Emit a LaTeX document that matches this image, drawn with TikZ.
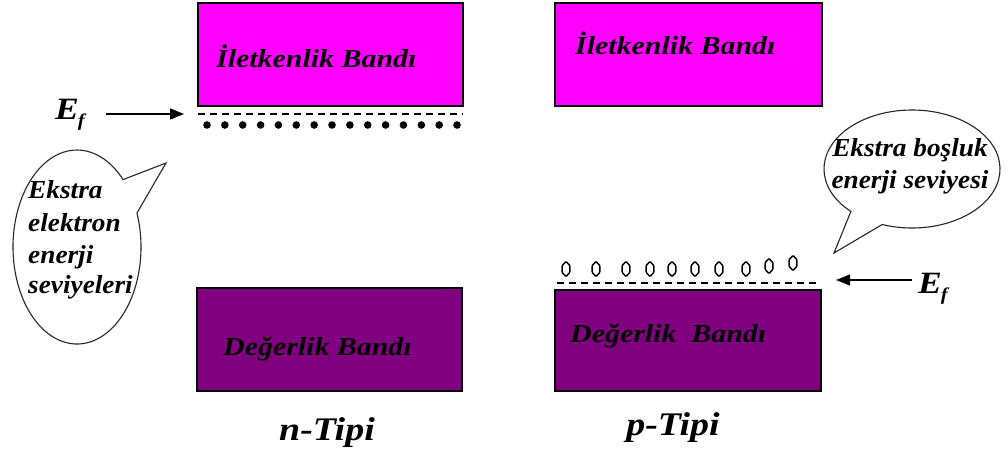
\documentclass[tikz,border=0pt]{standalone}
\usepackage{fontspec}
\setmainfont{Liberation Serif}
\newfontfamily\bandf[FakeStretch=1.15]{Liberation Serif}
\newfontfamily\bubf[FakeStretch=1.05]{Liberation Serif}
\usetikzlibrary{arrows.meta}
\definecolor{cbandc}{RGB}{255,0,255}
\definecolor{vbandc}{RGB}{128,0,128}
\begin{document}
\begin{tikzpicture}[x=1pt,y=-1pt,
  bandbox/.style={draw=black, line width=1.3pt, inner sep=0pt, outer sep=0pt},
  cbbox/.style={bandbox, fill=cbandc},
  vbbox/.style={bandbox, fill=vbandc},
  bandlbl/.style={inner sep=0pt, anchor=base west, font=\bandf\bfseries\itshape\fontsize{26}{30}\selectfont},
  typelbl/.style={inner sep=0pt, anchor=base, font=\bandf\bfseries\itshape\fontsize{33}{36}\selectfont},
  bublbl/.style={inner sep=0pt, font=\bubf\bfseries\itshape\fontsize{26}{30}\selectfont},
  eflbl/.style={inner sep=0pt, anchor=base west, font=\bandf\bfseries\itshape\fontsize{31}{34}\selectfont},
  bubble/.style={draw=black!85, line width=1.1pt, fill=white},
  arr/.style={line width=1.4pt, -{Triangle[length=14pt, width=11pt]}},
  fermi/.style={line width=1.6pt, dash pattern=on 6.5pt off 5.5pt}
]
\useasboundingbox (0,0) rectangle (1008,457);

% bands
\node[cbbox, minimum width=265pt, minimum height=103pt] (cbL) at (330.5,54.5) {};
\node[cbbox, minimum width=267pt, minimum height=103pt] (cbR) at (688.5,54.5) {};
\node[vbbox, minimum width=265pt, minimum height=103pt] (vbL) at (329.5,339.5) {};
\node[vbbox, minimum width=266pt, minimum height=101pt] (vbR) at (688,340.5) {};

\node[bandlbl] (tcL) at (216,68) {İletkenlik Bandı};
\node[bandlbl] (tcR) at (575,55) {İletkenlik Bandı};
\node[bandlbl] (tvL) at (223,355) {Değerlik Bandı};
\node[bandlbl] (tvR) at (570,342) {Değerlik~~Bandı};

\node[typelbl] (nT) at (327,440) {n-Tipi};
\node[typelbl] (pT) at (673,435) {p-Tipi};

% Fermi levels
\coordinate (fL1) at (198,114);
\coordinate (fL2) at (463,114);
\draw[fermi] (fL1) -- (fL2);
\coordinate (fR1) at (557,283);
\coordinate (fR2) at (817,283);
\draw[fermi] (fR1) -- (fR2);

% electrons
\foreach \i in {0,...,14}
  \fill ({207+\i*17.86},125) circle (3.8);

% holes
\foreach \hx/\hy in {566/269, 596/269, 626/269, 650/269, 672/269, 695/269, 719/269, 746/269, 769/266, 793/263}
  \draw[line width=1.5pt, rounded corners=0.8pt] (\hx,\hy-7.5) -- (\hx+3.8,\hy-3.5) -- (\hx+3.8,\hy+3.5) -- (\hx,\hy+7.5) -- (\hx-3.8,\hy+3.5) -- (\hx-3.8,\hy-3.5) -- cycle;

% E_f labels and arrows
\node[eflbl] (efL) at (55,120) {E\kern-1pt\raisebox{-7pt}{\fontsize{18}{18}\selectfont f}};
\node[eflbl] (efR) at (918,293) {E\kern-1pt\raisebox{-7pt}{\fontsize{18}{18}\selectfont f}};
\coordinate (aL1) at (106,114);
\coordinate (aL2) at (184,114);
\draw[arr] (aL1) -- (aL2);
\coordinate (aR1) at (912,280);
\coordinate (aR2) at (836,280);
\draw[arr] (aR1) -- (aR2);

% bubbles
\draw[bubble] (77,247) ++(-20.5:64 and 97) arc[start angle=-20.5, end angle=316, x radius=64, y radius=97] -- (166,163) -- cycle;
\draw[bubble] (912,169) ++(134:88 and 59) arc[start angle=134, end angle=469.8, x radius=88, y radius=59] -- (834,253) -- cycle;

\node[bublbl, anchor=base west] (bl1) at (28,198) {Ekstra};
\node[bublbl, anchor=base west] (bl2) at (28,231) {elektron};
\node[bublbl, anchor=base west] (bl3) at (28,263) {enerji};
\node[bublbl, anchor=base west] (bl4) at (28,293) {seviyeleri};
\node[bublbl, anchor=base] (br1) at (910,157) {Ekstra boşluk};
\node[bublbl, anchor=base] (br2) at (910,188) {enerji seviyesi};
\end{tikzpicture}
\end{document}
